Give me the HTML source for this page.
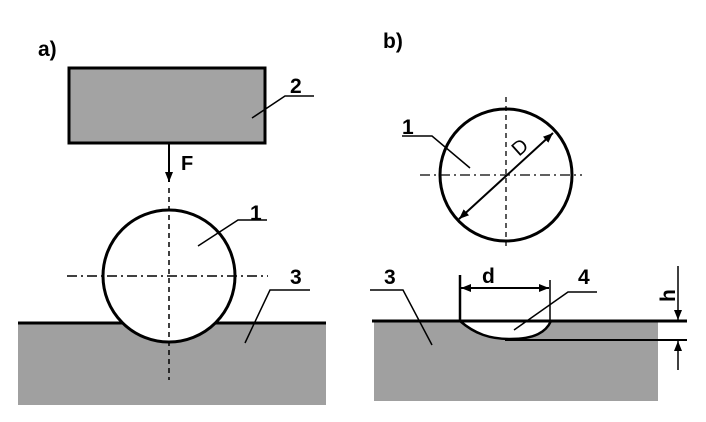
<!DOCTYPE html>
<html><head><style>
html,body{margin:0;padding:0;background:#fff;width:706px;height:422px;overflow:hidden}
</style></head><body>
<svg width="706" height="422" viewBox="0 0 706 422" xmlns="http://www.w3.org/2000/svg" font-family="Liberation Sans, sans-serif" font-weight="bold">
<defs>
<marker id="ar" viewBox="0 0 10 10" refX="10" refY="5" markerWidth="10" markerHeight="10" markerUnits="userSpaceOnUse" orient="auto-start-reverse"><path d="M0,1 L10,5 L0,9 z" fill="#000"/></marker>
</defs>
<!-- a) -->
<text x="38" y="56" font-size="21">a)</text>
<rect x="69" y="68" width="196" height="75" fill="#a3a3a3" stroke="#000" stroke-width="3"/>
<rect x="18" y="323" width="308" height="82" fill="#a0a0a0"/>
<line x1="18" y1="323" x2="326" y2="323" stroke="#000" stroke-width="3"/>
<circle cx="169" cy="276" r="66" fill="#fff" stroke="#000" stroke-width="3"/>
<line x1="169" y1="143" x2="169" y2="182" stroke="#000" stroke-width="2" marker-end="url(#ar)"/>
<text x="181" y="170" font-size="20">F</text>
<line x1="169" y1="188" x2="169" y2="380" stroke="#000" stroke-width="1.5" stroke-dasharray="5,4"/>
<line x1="67" y1="276" x2="268" y2="276" stroke="#000" stroke-width="1.5" stroke-dasharray="10,4,2,4"/>
<text x="290" y="93" font-size="21">2</text>
<polyline points="252,118 285,96 314,96" fill="none" stroke="#000" stroke-width="1.5"/>
<text x="250" y="220" font-size="21">1</text>
<polyline points="198,246 238,220 267,220" fill="none" stroke="#000" stroke-width="1.5"/>
<text x="290" y="284" font-size="21">3</text>
<polyline points="245,343 270,290 310,290" fill="none" stroke="#000" stroke-width="1.5"/>
<!-- b) -->
<text x="383" y="48" font-size="21">b)</text>
<rect x="374" y="321" width="284" height="80" fill="#a0a0a0"/>
<path d="M460,321 C475,334 490,339 510,339 C535,339 546,332 551,321 Z" fill="#fff"/>
<path d="M460,321 C475,334 490,339 510,339 C535,339 546,332 551,321" fill="none" stroke="#000" stroke-width="2.5"/>
<line x1="372" y1="321" x2="687" y2="321" stroke="#000" stroke-width="3"/>
<line x1="505" y1="340" x2="687" y2="340" stroke="#000" stroke-width="2"/>
<circle cx="506" cy="175" r="66" fill="#fff" stroke="#000" stroke-width="3"/>
<line x1="506" y1="97" x2="506" y2="247" stroke="#000" stroke-width="1.3" stroke-dasharray="5,4"/>
<line x1="420" y1="175" x2="582" y2="175" stroke="#000" stroke-width="1.3" stroke-dasharray="10,4,2,4"/>
<line x1="459" y1="219" x2="553" y2="133" stroke="#000" stroke-width="2" marker-start="url(#ar)" marker-end="url(#ar)"/>
<text x="0" y="0" font-size="20" font-weight="normal" transform="translate(519,157) rotate(-42)">D</text>
<text x="402" y="134" font-size="21">1</text>
<polyline points="470,168 432,136 402,136" fill="none" stroke="#000" stroke-width="1.5"/>
<text x="384" y="284" font-size="21">3</text>
<polyline points="432,345 403,290 370,290" fill="none" stroke="#000" stroke-width="1.5"/>
<line x1="460" y1="275" x2="460" y2="321" stroke="#000" stroke-width="2.5"/>
<line x1="550" y1="280" x2="550" y2="321" stroke="#000" stroke-width="1.5"/>
<line x1="461" y1="288" x2="549" y2="288" stroke="#000" stroke-width="2" marker-start="url(#ar)" marker-end="url(#ar)"/>
<text x="482" y="283" font-size="21">d</text>
<text x="578" y="284" font-size="21">4</text>
<polyline points="514,330 568,292 597,292" fill="none" stroke="#000" stroke-width="1.5"/>
<line x1="678" y1="266" x2="678" y2="320" stroke="#000" stroke-width="1.5" marker-end="url(#ar)"/>
<line x1="678" y1="370" x2="678" y2="341" stroke="#000" stroke-width="1.5" marker-end="url(#ar)"/>
<text x="0" y="0" font-size="21" transform="translate(675,302) rotate(-90)">h</text>
</svg>
</body></html>
